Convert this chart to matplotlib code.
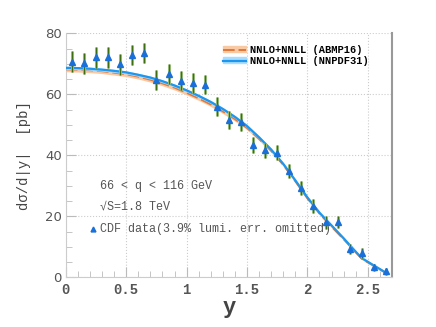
import numpy as np
import matplotlib
matplotlib.use("Agg")
import matplotlib.pyplot as plt
from matplotlib.lines import Line2D
from matplotlib.patches import Patch
from matplotlib.ticker import MultipleLocator

# CDF data, bin centres in |y|
y_data = [0.05, 0.15, 0.25, 0.35, 0.45, 0.55, 0.65, 0.75, 0.85, 0.95,
          1.05, 1.15, 1.25, 1.35, 1.45, 1.55, 1.65, 1.75, 1.85, 1.95,
          2.05, 2.15, 2.25, 2.35, 2.45, 2.55, 2.65]
xs_data = [70.7, 70.2, 72.1, 72.1, 69.9, 72.9, 73.6, 64.7, 66.6, 64.5,
           63.8, 63.1, 56.0, 51.6, 51.0, 43.4, 41.6, 40.9, 34.9, 29.3,
           23.4, 18.1, 18.2, 9.4, 7.9, 3.3, 2.0]
xs_err = [3.4, 3.4, 3.4, 3.4, 3.4, 3.4, 3.4, 3.3, 3.3, 3.2,
          3.2, 3.1, 3.1, 3.0, 3.0, 2.6, 2.5, 2.5, 2.4, 2.4,
          2.2, 2.1, 2.0, 1.6, 1.6, 1.2, 1.1]

# theory curves
y_th = [0.0, 0.1, 0.2, 0.3, 0.4, 0.5, 0.6, 0.7, 0.8, 0.9, 1.0, 1.1, 1.2,
        1.3, 1.4, 1.5, 1.6, 1.7, 1.8, 1.9, 2.0, 2.1, 2.2, 2.3, 2.4, 2.45,
        2.5, 2.6, 2.65]
nnpdf = [68.7, 68.6, 68.4, 68.1, 67.7, 67.2, 66.4, 65.5, 64.3, 62.9, 61.3,
         59.5, 57.5, 55.2, 52.6, 49.6, 45.9, 41.9, 37.2, 31.8, 26.2, 21.2,
         17.0, 12.8, 8.4, 6.3, 5.1, 2.7, 1.5]
nnpdf_err = [0.5, 0.5, 0.5, 0.5, 0.5, 0.5, 0.5, 0.5, 0.5, 0.5, 0.5,
             0.5, 0.5, 0.5, 0.5, 0.5, 0.5, 0.4, 0.4, 0.4, 0.4, 0.3,
             0.3, 0.3, 0.3, 0.2, 0.2, 0.2, 0.2]
abmp = [68.2, 68.1, 67.9, 67.6, 67.1, 66.6, 65.8, 64.8, 63.6, 62.2, 60.5,
        58.7, 56.7, 54.4, 51.9, 49.0, 45.4, 41.5, 36.9, 31.5, 25.9, 20.9,
        16.6, 12.5, 8.2, 6.1, 4.9, 2.6, 1.4]
abmp_err = [0.8, 0.8, 0.8, 0.8, 0.8, 0.8, 0.8, 0.8, 0.8, 0.8, 0.7,
            0.7, 0.7, 0.7, 0.7, 0.6, 0.6, 0.6, 0.5, 0.5, 0.5, 0.4,
            0.4, 0.4, 0.3, 0.3, 0.3, 0.2, 0.2]

mono = ['Liberation Mono', 'DejaVu Sans Mono']

fig = plt.figure(figsize=(4.36, 3.27), dpi=100)
ax = fig.add_axes([0.151, 0.152, 0.748, 0.746])

y_th = np.array(y_th)
nn = np.array(nnpdf); nne = np.array(nnpdf_err)
ab = np.array(abmp); abe = np.array(abmp_err)

ax.fill_between(y_th, ab - abe, ab + abe, color='#f9c9a4', lw=0, zorder=2)
ax.plot(y_th, ab, color='#e0783a', lw=1.4, ls=(0, (6, 2)), zorder=3)
ax.fill_between(y_th, nn - nne, nn + nne, color='#a9dcff', lw=0, zorder=4)
ax.plot(y_th, nn, color='#1c96ee', lw=1.6, zorder=5)

# error bars: light green halo with darker core
ax.errorbar(y_data, xs_data, yerr=xs_err, fmt='none', ecolor='#a6c98a',
            elinewidth=2.2, capsize=0, zorder=6)
ax.errorbar(y_data, xs_data, yerr=xs_err, fmt='none', ecolor='#3d6e12',
            elinewidth=1.0, capsize=0, zorder=7)
ax.plot(y_data, xs_data, ls='none', marker='^', ms=4, color='#1a6fd8',
        mec='#1a6fd8', zorder=8)

ax.set_xlim(0, 2.7)
ax.set_ylim(0, 80)
ax.xaxis.set_major_locator(MultipleLocator(0.5))
ax.xaxis.set_minor_locator(MultipleLocator(0.1))
ax.yaxis.set_major_locator(MultipleLocator(20))
ax.yaxis.set_minor_locator(MultipleLocator(5))
ax.tick_params(which='both', direction='in', top=False, right=False,
               color='#bbbbbb')
ax.tick_params(which='major', length=7, width=0.8)
ax.tick_params(which='minor', length=4, width=0.6)
ax.tick_params(axis='x', labelsize=10, labelcolor='#555555', pad=4)
ax.tick_params(axis='y', labelsize=9.5, labelcolor='#555555', pad=3)
ax.set_xticks([0, 0.5, 1, 1.5, 2, 2.5])
ax.set_xticklabels(['0', '0.5', '1', '1.5', '2', '2.5'], family=mono,
                   fontweight='bold')
ax.grid(True, which='major', ls=':', color='#cccccc', lw=0.8)

for s in ['left', 'bottom']:
    ax.spines[s].set_color('#cccccc')
ax.spines['top'].set_visible(False)
ax.spines['right'].set_color('#999999')
ax.spines['right'].set_linewidth(1.5)

ax.set_xlabel('y', family=mono, fontsize=16, fontweight='bold',
              color='#444444', labelpad=0)
ax.set_ylabel('d\u03c3/d|y|  [pb]', family=mono, fontsize=10,
              color='#444444', labelpad=10)

handles = [(Patch(color='#f9c9a4'), Line2D([], [], color='#e0783a', lw=1.4,
                                            ls=(0, (6, 2)))),
           (Patch(color='#a9dcff'), Line2D([], [], color='#1c96ee', lw=1.6))]
ax.legend(handles, ['NNLO+NNLL (ABMP16)', 'NNLO+NNLL (NNPDF31)'],
          loc='upper left', bbox_to_anchor=(0.47, 0.97), frameon=False,
          prop={'family': mono, 'weight': 'bold', 'size': 7.5},
          handlelength=2.2, handleheight=0.5, handletextpad=0.4,
          labelspacing=0.1, borderaxespad=0)

ax.text(0.105, 0.375, '66 < q < 116 GeV', transform=ax.transAxes,
        family=mono, fontsize=8.5, color='#555555', va='center')
ax.text(0.105, 0.288, '\u221aS=1.8 TeV', transform=ax.transAxes,
        family=mono, fontsize=8.5, color='#555555', va='center')
ax.plot([0.083], [0.2], transform=ax.transAxes, marker='^', ms=3.5,
        color='#1a6fd8', ls='none', clip_on=False)
ax.text(0.105, 0.2, 'CDF data(3.9% lumi. err. omitted)',
        transform=ax.transAxes, family=mono, fontsize=8.5, color='#555555',
        va='center')

fig.savefig('out.png', dpi=100)
